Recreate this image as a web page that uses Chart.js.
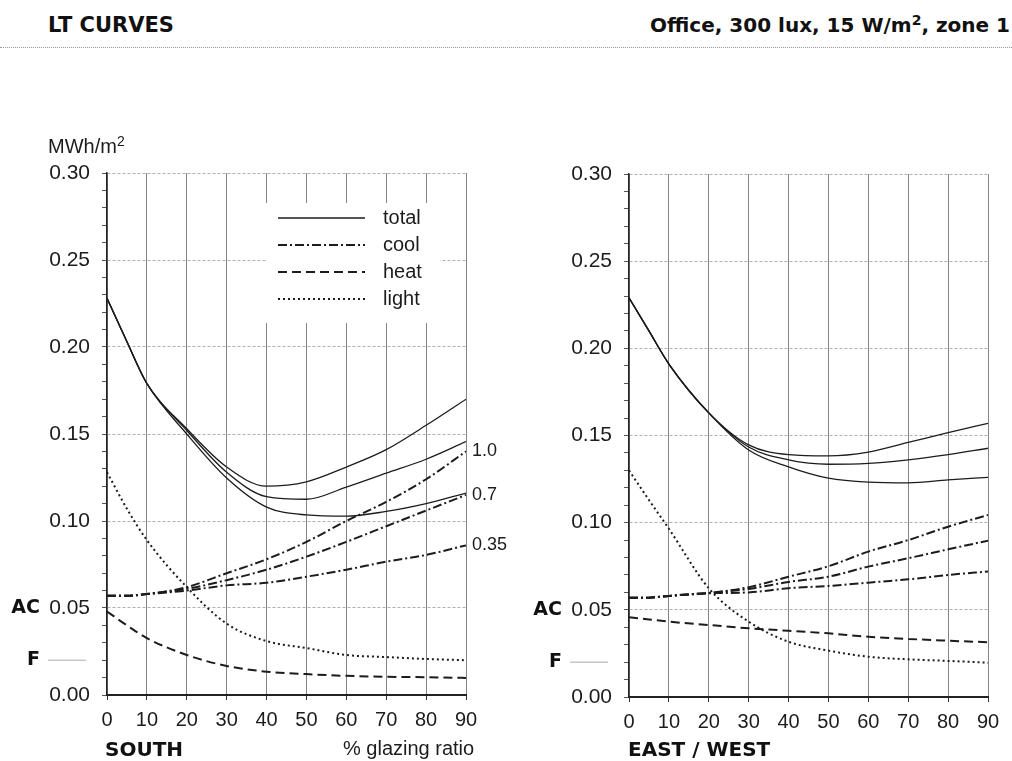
<!DOCTYPE html>
<html>
<head>
<meta charset="utf-8">
<script src="https://cdn.jsdelivr.net/npm/chart.js@4"></script>
<style>
body { margin:0; width:1012px; height:761px; background:#fff; position:relative; overflow:hidden; font-family:"Liberation Sans", Arial, sans-serif; color:#1c1c1c; }
.abs { position:absolute; white-space:nowrap; }
.heavy { font-family:"DejaVu Sans", sans-serif; font-weight:bold; color:#111; }
canvas { position:absolute; }
</style>
</head>
<body>
<canvas id="south" width="510" height="631" style="left:0;top:130px;width:510px;height:631px"></canvas>
<canvas id="eastwest" width="492" height="631" style="left:520px;top:130px;width:492px;height:631px"></canvas>

<div class="abs heavy" style="left:48px;top:13px;font-size:21px;">LT CURVES</div>
<div class="abs heavy" style="right:2px;top:13px;font-size:20px;">Office, 300 lux, 15 W/m<span style="font-size:0.7em;position:relative;top:-0.5em">2</span>, zone 1</div>
<div class="abs" style="left:0;top:47px;width:1012px;border-top:1px dotted #999;"></div>
<div class="abs" style="left:48px;top:135px;font-size:20px;">MWh/m<span style="font-size:0.7em;position:relative;top:-0.5em">2</span></div>
<div class="abs heavy" style="left:105px;top:737px;font-size:20px;">SOUTH</div>
<div class="abs" style="left:343px;top:737px;font-size:20px;">% glazing ratio</div>
<div class="abs heavy" style="left:628px;top:737px;font-size:20px;">EAST / WEST</div>

<script>
// glazing ratio (%) where values were read
const glazing = [0, 5, 10, 20, 30, 40, 50, 60, 70, 80, 90];
const yMajor = [0, 0.05, 0.10, 0.15, 0.20, 0.25, 0.30];
const legendLabels = ['total', 'cool', 'heat', 'light'];
const coolLabels = ['1.0', '0.7', '0.35'];

// SOUTH
const southTotalHigh = [0.228, 0.203, 0.179, 0.153, 0.131, 0.120, 0.1225, 0.131, 0.141, 0.155, 0.170];
const southTotalMid  = [0.228, 0.203, 0.179, 0.152, 0.128, 0.114, 0.1125, 0.1195, 0.1275, 0.1355, 0.1456];
const southTotalLow  = [0.228, 0.203, 0.179, 0.150, 0.1247, 0.108, 0.1035, 0.1028, 0.1055, 0.110, 0.116];
const southCool10  = [0.057, 0.057, 0.058, 0.062, 0.070, 0.078, 0.088, 0.100, 0.111, 0.124, 0.140];
const southCool07  = [0.057, 0.057, 0.058, 0.061, 0.066, 0.072, 0.0795, 0.088, 0.097, 0.106, 0.115];
const southCool035 = [0.057, 0.057, 0.058, 0.060, 0.063, 0.0645, 0.068, 0.072, 0.0766, 0.0805, 0.086];
const southHeat  = [0.048, 0.040, 0.0327, 0.023, 0.0167, 0.0134, 0.012, 0.011, 0.0105, 0.0102, 0.0098];
const southLight = [0.128, 0.107, 0.089, 0.062, 0.041, 0.031, 0.027, 0.023, 0.0218, 0.0207, 0.020];

// EAST / WEST
const ewTotalHigh = [0.229, 0.210, 0.191, 0.163, 0.1446, 0.139, 0.1383, 0.1405, 0.146, 0.1517, 0.157];
const ewTotalMid  = [0.229, 0.210, 0.191, 0.163, 0.1434, 0.136, 0.1335, 0.134, 0.136, 0.139, 0.1427];
const ewTotalLow  = [0.229, 0.210, 0.191, 0.163, 0.1417, 0.132, 0.1255, 0.1232, 0.1228, 0.1245, 0.126];
const ewCool10  = [0.057, 0.057, 0.058, 0.0597, 0.063, 0.069, 0.075, 0.0834, 0.090, 0.0977, 0.1044];
const ewCool07  = [0.057, 0.057, 0.058, 0.0597, 0.062, 0.066, 0.069, 0.0748, 0.0796, 0.0847, 0.0897];
const ewCool035 = [0.057, 0.057, 0.058, 0.0595, 0.060, 0.0624, 0.0637, 0.0656, 0.0675, 0.070, 0.072];
const ewHeat  = [0.0457, 0.0445, 0.0432, 0.0413, 0.0394, 0.038, 0.0365, 0.0346, 0.0333, 0.0323, 0.0314];
const ewLight = [0.130, 0.113, 0.0965, 0.0624, 0.0432, 0.0317, 0.0266, 0.0231, 0.0216, 0.0207, 0.0197];

const INK = '#1c1c1c';
const lineStyle = {
  total: { borderWidth: 1.3, borderDash: [] },
  cool:  { borderWidth: 2, borderDash: [9, 3, 2, 3] },
  heat:  { borderWidth: 2, borderDash: [9, 5] },
  light: { borderWidth: 2, borderDash: [2, 3] }
};

function series(kind, ys) {
  return {
    data: ys.map((y, i) => ({ x: glazing[i], y: y })),
    borderColor: INK,
    borderWidth: lineStyle[kind].borderWidth,
    borderDash: lineStyle[kind].borderDash,
    pointRadius: 0,
    cubicInterpolationMode: 'monotone',
    fill: false
  };
}

function isMajor(v) {
  return yMajor.some(m => Math.abs(m - v) < 1e-6);
}

// AC / F marks beside the y axis
function sideMarks(chart) {
  const ctx = chart.ctx;
  const y = chart.scales.y;
  const left = chart.chartArea.left;
  ctx.save();
  ctx.fillStyle = '#111';
  ctx.font = 'bold 19px "DejaVu Sans"';
  ctx.textAlign = 'right';
  ctx.textBaseline = 'middle';
  ctx.fillText('AC', left - 67, y.getPixelForValue(0.05));
  ctx.fillText('F', left - 67, y.getPixelForValue(0.02));
  ctx.strokeStyle = '#aaa';
  ctx.lineWidth = 1;
  ctx.beginPath();
  ctx.moveTo(left - 59, y.getPixelForValue(0.02));
  ctx.lineTo(left - 21, y.getPixelForValue(0.02));
  ctx.stroke();
  ctx.restore();
}

const southExtras = {
  id: 'southExtras',
  beforeDatasetsDraw(chart) {
    const ctx = chart.ctx;
    const a = chart.chartArea;
    ctx.save();
    ctx.fillStyle = '#fff';
    ctx.fillRect(a.left + 159, a.top + 30, 174, 120);
    const kinds = ['total', 'cool', 'heat', 'light'];
    ctx.font = '20px "Liberation Sans"';
    ctx.textBaseline = 'middle';
    ctx.fillStyle = INK;
    kinds.forEach((k, i) => {
      const yy = a.top + 45 + i * 27;
      ctx.strokeStyle = INK;
      ctx.lineWidth = lineStyle[k].borderWidth;
      ctx.setLineDash(lineStyle[k].borderDash);
      ctx.beginPath();
      ctx.moveTo(a.left + 171, yy);
      ctx.lineTo(a.left + 258, yy);
      ctx.stroke();
      ctx.fillText(legendLabels[i], a.left + 276, yy);
    });
    ctx.restore();
  },
  afterDraw(chart) {
    sideMarks(chart);
    const ctx = chart.ctx;
    const y = chart.scales.y;
    const ends = [southCool10, southCool07, southCool035];
    ctx.save();
    ctx.fillStyle = INK;
    ctx.font = '18px "Liberation Sans"';
    ctx.textAlign = 'left';
    ctx.textBaseline = 'middle';
    ends.forEach((s, i) => {
      ctx.fillText(coolLabels[i], chart.chartArea.right + 6, y.getPixelForValue(s[s.length - 1]));
    });
    ctx.restore();
  }
};

const ewExtras = {
  id: 'ewExtras',
  afterDraw(chart) { sideMarks(chart); }
};

function makeChart(id, datasets, yWidth, xHeight, padTop, padRight, plugin) {
  return new Chart(document.getElementById(id), {
    type: 'line',
    data: { datasets: datasets },
    options: {
      responsive: false,
      animation: false,
      layout: { padding: { top: padTop, right: padRight, left: 0, bottom: 0 } },
      plugins: { legend: { display: false }, tooltip: { enabled: false } },
      scales: {
        x: {
          type: 'linear',
          min: 0, max: 90,
          ticks: { stepSize: 10, color: INK, font: { family: 'Liberation Sans', size: 20 }, padding: 8, maxRotation: 0 },
          grid: { color: '#858585', lineWidth: 1, tickLength: 5, tickColor: '#333' },
          border: { color: '#222', width: 2 },
          afterFit(s) { s.height = xHeight; }
        },
        y: {
          min: 0, max: 0.3,
          ticks: {
            stepSize: 0.01, autoSkip: false, color: INK, padding: 12,
            font: { family: 'Liberation Sans', size: 21 },
            callback: v => isMajor(v) ? v.toFixed(2) : ''
          },
          grid: {
            color: c => isMajor(c.tick.value) ? '#b0b0b0' : 'rgba(0,0,0,0)',
            tickColor: '#555', tickLength: 5, lineWidth: 1
          },
          border: { color: '#222', width: 1.5, dash: [3, 2] },
          afterFit(s) { s.width = yWidth; }
        }
      }
    },
    plugins: [plugin]
  });
}

makeChart('south', [
  series('total', southTotalHigh), series('total', southTotalMid), series('total', southTotalLow),
  series('cool', southCool10), series('cool', southCool07), series('cool', southCool035),
  series('heat', southHeat), series('light', southLight)
], 107, 66, 43, 44, southExtras);

makeChart('eastwest', [
  series('total', ewTotalHigh), series('total', ewTotalMid), series('total', ewTotalLow),
  series('cool', ewCool10), series('cool', ewCool07), series('cool', ewCool035),
  series('heat', ewHeat), series('light', ewLight)
], 109, 64, 44, 24, ewExtras);
</script>
</body>
</html>
